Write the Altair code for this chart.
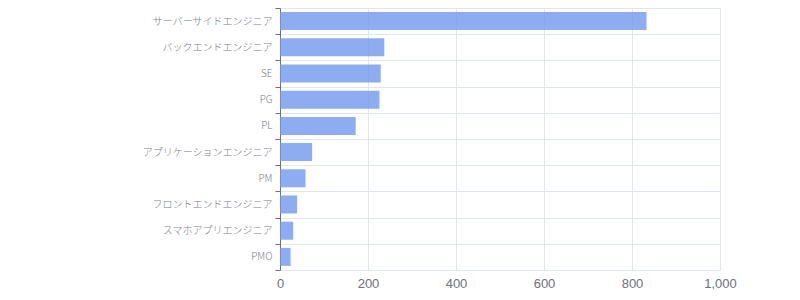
import altair as alt
import pandas as pd

roles = [
    "サーバーサイドエンジニア",
    "バックエンドエンジニア",
    "SE",
    "PG",
    "PL",
    "アプリケーションエンジニア",
    "PM",
    "フロントエンドエンジニア",
    "スマホアプリエンジニア",
    "PMO",
]
counts = [833, 237, 229, 226, 172, 73, 58, 39, 30, 24]

df = pd.DataFrame({"role": roles, "count": counts})

bars = alt.Chart(df).mark_bar(
    color="#7099ec", opacity=0.8, size=18
).encode(
    x=alt.X(
        "count:Q",
        scale=alt.Scale(domain=[0, 1000], nice=False),
        axis=alt.Axis(
            title=None,
            values=[0, 200, 400, 600, 800, 1000],
            format=",d",
            domain=False,
            ticks=False,
            grid=True,
            gridColor="#E0E6F1",
            labelColor="#6E7079",
            labelFont="Liberation Sans",
            labelFontSize=13,
            labelPadding=7,
            labelFlush=False,
        ),
    ),
    y=alt.Y(
        "role:N",
        sort=None,
        scale=alt.Scale(paddingInner=0, paddingOuter=0),
        axis=alt.Axis(
            title=None,
            domain=True,
            domainColor="#6E7079",
            ticks=True,
            tickColor="#6E7079",
            tickSize=5,
            tickBand="extent",
            grid=True,
            gridColor="#E0E6F1",
            labelColor="#7a7d86",
            labelFont="Noto Sans CJK JP",
            labelFontWeight=300,
            labelFontSize=10,
            labelPadding=3,
        ),
    ),
)

chart = bars.properties(
    width=440,
    height=262,
    autosize="none",
    padding={"left": 280, "top": 8, "right": 80, "bottom": 30},
).configure_view(stroke=None)

chart.save("out.html", embed_options={"renderer": "svg", "actions": False})
